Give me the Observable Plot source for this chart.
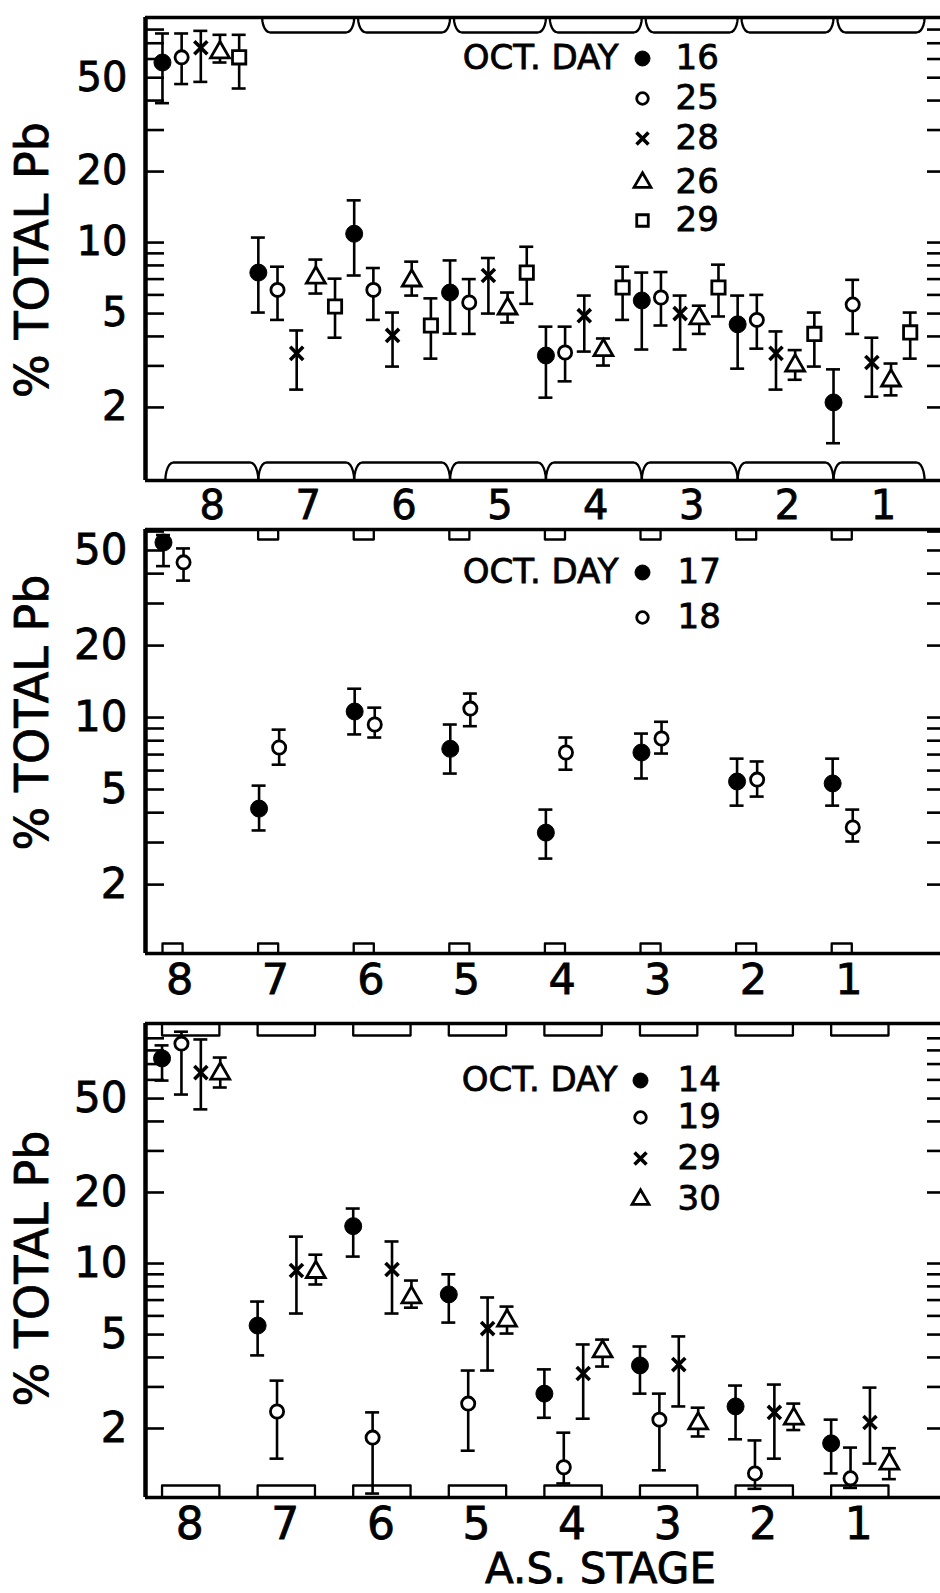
<!DOCTYPE html>
<html><head><meta charset="utf-8">
<script src="https://cdn.jsdelivr.net/npm/d3@7"></script>
<script src="https://cdn.jsdelivr.net/npm/@observablehq/plot@0.6"></script>
<style>
body{margin:0;background:#fff;}
#chart{width:940px;}
#chart svg{display:block;}
#chart svg text{stroke:#000;stroke-width:0.8px;}
</style></head><body><div id="chart"></div>
<script>
// ---------- data ----------
const stages = [8, 7, 6, 5, 4, 3, 2, 1];
const yTickLabels = [2, 5, 10, 20, 50];
const yMinorTicks = [2, 3, 4, 5, 6, 7, 8, 9, 10, 20, 30, 40, 50, 60, 70, 80, 90];
const legendTitle = "OCT. DAY";
const yTitle = "% TOTAL Pb";
const xTitle = "A.S. STAGE";

// Panel 1 (Oct. days 16, 25, 28, 26, 29)
const p1Days = [16, 25, 28, 26, 29];
const p1Kinds = ["filled", "open", "times", "triangle", "square"];
const p1Day16 = [58, 7.46, 10.9, 6.14, 3.32, 5.68, 4.5, 2.1];
const p1Day16Lo = [39, 5.05, 7.25, 4.11, 2.2, 3.52, 2.92, 1.41];
const p1Day16Hi = [77, 10.5, 15.1, 8.4, 4.4, 7.46, 5.96, 2.9];
const p1Day25 = [61, 6.3, 6.3, 5.57, 3.42, 5.85, 4.7, 5.46];
const p1Day25Lo = [47, 4.7, 4.7, 4.1, 2.58, 4.45, 3.55, 4.1];
const p1Day25Hi = [77, 7.9, 7.8, 7.0, 4.4, 7.5, 6.0, 6.95];
const p1Day28 = [67, 3.39, 4.04, 7.25, 4.9, 5.0, 3.39, 3.1];
const p1Day28Lo = [48, 2.38, 2.98, 5.0, 3.45, 3.52, 2.38, 2.22];
const p1Day28Hi = [79, 4.24, 5.05, 8.6, 5.96, 5.96, 4.2, 3.95];
const p1Day26 = [64, 7.1, 6.9, 5.25, 3.5, 4.77, 3.01, 2.6];
const p1Day26Lo = [58, 6.08, 5.96, 4.58, 3.01, 4.1, 2.62, 2.25];
const p1Day26Hi = [76, 8.47, 8.3, 6.14, 3.92, 5.4, 3.5, 3.07];
const p1Day29 = [61, 5.36, 4.45, 7.46, 6.45, 6.45, 4.1, 4.16];
const p1Day29Lo = [45, 3.95, 3.22, 5.5, 4.7, 4.86, 2.98, 3.22];
const p1Day29Hi = [76, 7.03, 5.8, 9.6, 7.9, 8.06, 5.05, 5.05];

// Panel 2 (Oct. days 17, 18)
const p2Days = [17, 18];
const p2Kinds = ["filled", "open"];
const p2Day17 = [54, 4.16, 10.6, 7.4, 3.3, 7.14, 5.4, 5.3];
const p2Day17Lo = [43, 3.37, 8.5, 5.83, 2.57, 5.56, 4.28, 4.28];
const p2Day17Hi = [58, 5.19, 13.2, 9.35, 4.12, 8.57, 6.73, 6.73];
const p2Day18 = [44.6, 7.49, 9.35, 10.9, 7.14, 8.17, 5.5, 3.47];
const p2Day18Lo = [37.4, 6.35, 8.25, 9.2, 6.05, 7.07, 4.67, 3.03];
const p2Day18Hi = [51, 8.9, 11.0, 12.6, 8.25, 9.6, 6.55, 4.12];

// Panel 3 (Oct. days 14, 19, 29, 30)
const p3Days = [14, 19, 29, 30];
const p3Kinds = ["filled", "open", "times", "triangle"];
const p3Day14 = [74, 5.46, 14.4, 7.4, 2.81, 3.7, 2.48, 1.73];
const p3Day14Lo = [59.6, 4.08, 10.7, 5.62, 2.22, 2.81, 1.8, 1.29];
const p3Day14Hi = [84, 6.9, 17.1, 9.0, 3.56, 4.45, 3.04, 2.18];
const p3Day19 = [85.5, 2.36, 1.83, 2.55, 1.37, 2.18, 1.29, 1.23];
const p3Day19Lo = [52, 1.49, 1.06, 1.61, 1.17, 1.33, 1.11, 1.12];
const p3Day19Hi = [96, 3.19, 2.34, 3.52, 1.92, 2.81, 1.78, 1.66];
const p3Day29 = [64.4, 9.34, 9.43, 5.3, 3.42, 3.73, 2.34, 2.12];
const p3Day29Lo = [45, 6.14, 6.14, 3.52, 2.2, 2.48, 1.49, 1.42];
const p3Day29Hi = [89, 13, 12.4, 7.18, 4.54, 4.91, 3.07, 2.98];
const p3Day30 = [63.8, 9.2, 7.18, 5.73, 4.24, 2.1, 2.2, 1.42];
const p3Day30Lo = [55.7, 8.15, 6.5, 5.05, 3.66, 1.85, 1.97, 1.22];
const p3Day30Hi = [74.6, 10.9, 8.47, 6.57, 4.76, 2.45, 2.55, 1.65];

// ---------- styles ----------
const W = 940, ML = 145;
const FONT = "DejaVu Sans";
const kindStyle = {
  filled:   {symbol: "circle",   fill: "black", stroke: "black", strokeWidth: 1,   r: 8.5},
  open:     {symbol: "circle",   fill: "white", stroke: "black", strokeWidth: 2.8, r: 6.6},
  times:    {symbol: "times",    fill: "none",  stroke: "black", strokeWidth: 3.6, r: 6},
  triangle: {symbol: "triangle", fill: "white", stroke: "black", strokeWidth: 2.8, r: 7},
  square:   {symbol: "square",   fill: "white", stroke: "black", strokeWidth: 2.8, r: 7.5}
};
const legendKindStyle = {
  filled:   {symbol: "circle",   fill: "black", stroke: "black", strokeWidth: 1,   r: 7.5},
  open:     {symbol: "circle",   fill: "white", stroke: "black", strokeWidth: 2.8, r: 5.8},
  times:    {symbol: "times",    fill: "none",  stroke: "black", strokeWidth: 3.6, r: 5.5},
  triangle: {symbol: "triangle", fill: "white", stroke: "black", strokeWidth: 2.8, r: 6.3},
  square:   {symbol: "square",   fill: "white", stroke: "black", strokeWidth: 2.8, r: 6.5}
};

function buildRows(series, step) {
  const rows = [];
  series.forEach((s, j) => s.v.forEach((v, i) => rows.push({x: i + j * step, v, lo: s.lo[i], hi: s.hi[i], kind: s.kind})));
  return rows;
}

function panel(cfg) {
  const {series, xDomain, yDomain, height, mt, mb, step, labelShift, tickPad, xFont, yFont, legend, deco, yLabelDy, extra} = cfg;
  const plotH = height - mt - mb;
  const ppd = plotH / Math.log10(yDomain[1] / yDomain[0]);
  const ppu = (W - ML) / (xDomain[1] - xDomain[0]);
  const shift = (v, px) => v * Math.pow(10, px / ppd);
  const [x0, x1] = xDomain, [y0, y1] = yDomain;
  const rows = buildRows(series, step);
  const capHalf = 7 / ppu;
  const ticksIn = yMinorTicks.filter(t => t > y0 && t < y1);

  // decorative stage markers (brackets / boxes), built from stage index
  const decoPts = [];
  let id = 0;
  const addPath = pts => { pts.forEach(p => decoPts.push({x: p[0], y: p[1], id})); id++; };
  stages.forEach((s, i) => {
    if (deco.type === "bracket") {
      const rx = 8 / ppu;
      const make = (a, b, edge, depth, sign) => {
        const pts = [];
        for (let k = 0; k <= 6; k++) { const t = Math.PI - k * Math.PI / 12; pts.push([a + rx + rx * Math.cos(t), shift(edge, sign * depth * Math.sin(t))]); }
        for (let k = 6; k >= 0; k--) { const t = Math.PI - k * Math.PI / 12; pts.push([b - rx - rx * Math.cos(t), shift(edge, sign * depth * Math.sin(t))]); }
        return pts;
      };
      const a = i === 0 ? 0.03 : i, b = i === stages.length - 1 ? i + 0.95 : i + 1;
      addPath(make(a, b, y0, 18, 1));
      if (i > 0) addPath(make(i + 0.04, b, y1, 15, -1));
    } else {
      const a = i + deco.a, b = i + deco.b;
      addPath([[a, y0], [a, shift(y0, deco.h)], [b, shift(y0, deco.h)], [b, y0]]);
      if (deco.top || i > 0) addPath([[a, y1], [a, shift(y1, -deco.h)], [b, shift(y1, -deco.h)], [b, y1]]);
    }
  });

  const marks = [
    Plot.line(decoPts, {x: "x", y: "y", z: "id", stroke: "black", strokeWidth: 2.3, curve: "linear"}),
    Plot.ruleY([y0], {stroke: "black", strokeWidth: 3.6}),
    Plot.ruleY([y1], {stroke: "black", strokeWidth: 3.4}),
    Plot.ruleX([x0], {stroke: "black", strokeWidth: 4.5}),
    Plot.ruleY(ticksIn, {y: d => d, x1: () => x0, x2: () => x0 + 19 / ppu, stroke: "black", strokeWidth: 2.6}),
    Plot.ruleY(ticksIn, {y: d => d, x1: () => x1 - 13 / ppu, x2: () => x1, stroke: "black", strokeWidth: 2.6}),
    Plot.ruleX(rows, {x: "x", y1: "lo", y2: "hi", stroke: "black", strokeWidth: 2.6}),
    Plot.ruleY(rows, {y: "hi", x1: d => d.x - capHalf, x2: d => d.x + capHalf, stroke: "black", strokeWidth: 2.6}),
    Plot.ruleY(rows, {y: "lo", x1: d => d.x - capHalf, x2: d => d.x + capHalf, stroke: "black", strokeWidth: 2.6})
  ];
  Object.keys(kindStyle).forEach(k => {
    const sub = rows.filter(r => r.kind === k);
    if (sub.length) marks.push(Plot.dot(sub, {x: "x", y: "v", ...kindStyle[k]}));
  });
  // x stage labels
  marks.push(Plot.text(stages, {x: (d, i) => i + labelShift, text: d => String(d), frameAnchor: "bottom", dy: tickPad, lineAnchor: "top", textAnchor: "middle", fontSize: xFont}));
  // legend
  marks.push(Plot.text([legendTitle], {text: d => d, frameAnchor: "top-left", dx: legend.titleRight - ML, dy: legend.rows[0] - mt, textAnchor: "end", lineAnchor: "middle", fontSize: 34}));
  series.forEach((s, j) => {
    marks.push(Plot.dot([s.day], {frameAnchor: "top-left", dx: legend.markX - ML, dy: legend.rows[j] - mt, ...legendKindStyle[s.kind]}));
    marks.push(Plot.text([String(s.day)], {text: d => d, frameAnchor: "top-left", dx: legend.numX - ML, dy: legend.rows[j] - mt, textAnchor: "start", lineAnchor: "middle", fontSize: 34}));
  });
  marks.push(Plot.text([yTitle], {text: d => d, frameAnchor: "left", dx: 33 - ML, dy: yLabelDy, rotate: -90, textAnchor: "middle", lineAnchor: "middle", fontSize: 46}));
  if (extra) marks.push(...extra);

  return Plot.plot({
    width: W, height, marginLeft: ML, marginRight: 0, marginTop: mt, marginBottom: mb,
    style: {fontFamily: FONT, fontSize: yFont + "px", color: "black", background: "white", overflow: "visible"},
    x: {domain: xDomain, axis: null},
    y: {type: "log", domain: yDomain, ticks: yTickLabels, tickFormat: d => String(d), tickSize: 0, tickPadding: 18, label: null},
    marks
  });
}

const chart = document.getElementById("chart");

chart.appendChild(panel({
  series: [
    {day: p1Days[0], kind: p1Kinds[0], v: p1Day16, lo: p1Day16Lo, hi: p1Day16Hi},
    {day: p1Days[1], kind: p1Kinds[1], v: p1Day25, lo: p1Day25Lo, hi: p1Day25Hi},
    {day: p1Days[2], kind: p1Kinds[2], v: p1Day28, lo: p1Day28Lo, hi: p1Day28Hi},
    {day: p1Days[3], kind: p1Kinds[3], v: p1Day26, lo: p1Day26Lo, hi: p1Day26Hi},
    {day: p1Days[4], kind: p1Kinds[4], v: p1Day29, lo: p1Day29Lo, hi: p1Day29Hi}
  ],
  xDomain: [-0.177, 8.116], yDomain: [0.98, 90], height: 520, mt: 17, mb: 40,
  step: 0.2, labelShift: 0.52, tickPad: 10, xFont: 40, yFont: 40, yLabelDy: 11,
  legend: {titleRight: 618, markX: 642, numX: 675, rows: [58, 98, 138, 182, 220]},
  deco: {type: "bracket"}
}));

chart.appendChild(panel({
  series: [
    {day: p2Days[0], kind: p2Kinds[0], v: p2Day17, lo: p2Day17Lo, hi: p2Day17Hi},
    {day: p2Days[1], kind: p2Kinds[1], v: p2Day18, lo: p2Day18Lo, hi: p2Day18Hi}
  ],
  xDomain: [-0.188, 8.128], yDomain: [1.03, 61.2], height: 480, mt: 9, mb: 47,
  step: 0.21, labelShift: 0.17, tickPad: 10, xFont: 43, yFont: 42, yLabelDy: -29,
  legend: {titleRight: 618, markX: 642, numX: 677, rows: [52, 97]},
  deco: {type: "box", a: -0.01, b: 0.2, h: 10, top: false}
}));

chart.appendChild(panel({
  series: [
    {day: p3Days[0], kind: p3Kinds[0], v: p3Day14, lo: p3Day14Lo, hi: p3Day14Hi},
    {day: p3Days[1], kind: p3Kinds[1], v: p3Day19, lo: p3Day19Lo, hi: p3Day19Hi},
    {day: p3Days[2], kind: p3Kinds[2], v: p3Day29, lo: p3Day29Lo, hi: p3Day29Hi},
    {day: p3Days[3], kind: p3Kinds[3], v: p3Day30, lo: p3Day30Lo, hi: p3Day30Hi}
  ],
  xDomain: [-0.173, 8.144], yDomain: [1.02, 104], height: 593, mt: 23, mb: 96,
  step: 0.203, labelShift: 0.29, tickPad: 10, xFont: 44, yFont: 42, yLabelDy: 8,
  legend: {titleRight: 617, markX: 640, numX: 677, rows: [80, 117, 158, 199]},
  deco: {type: "box", a: 0, b: 0.6, h: 12, top: true},
  extra: [Plot.text([xTitle], {text: d => d, frameAnchor: "bottom-left", dx: 600 - ML, dy: 72, textAnchor: "middle", lineAnchor: "middle", fontSize: 42})]
}));
</script></body></html>
